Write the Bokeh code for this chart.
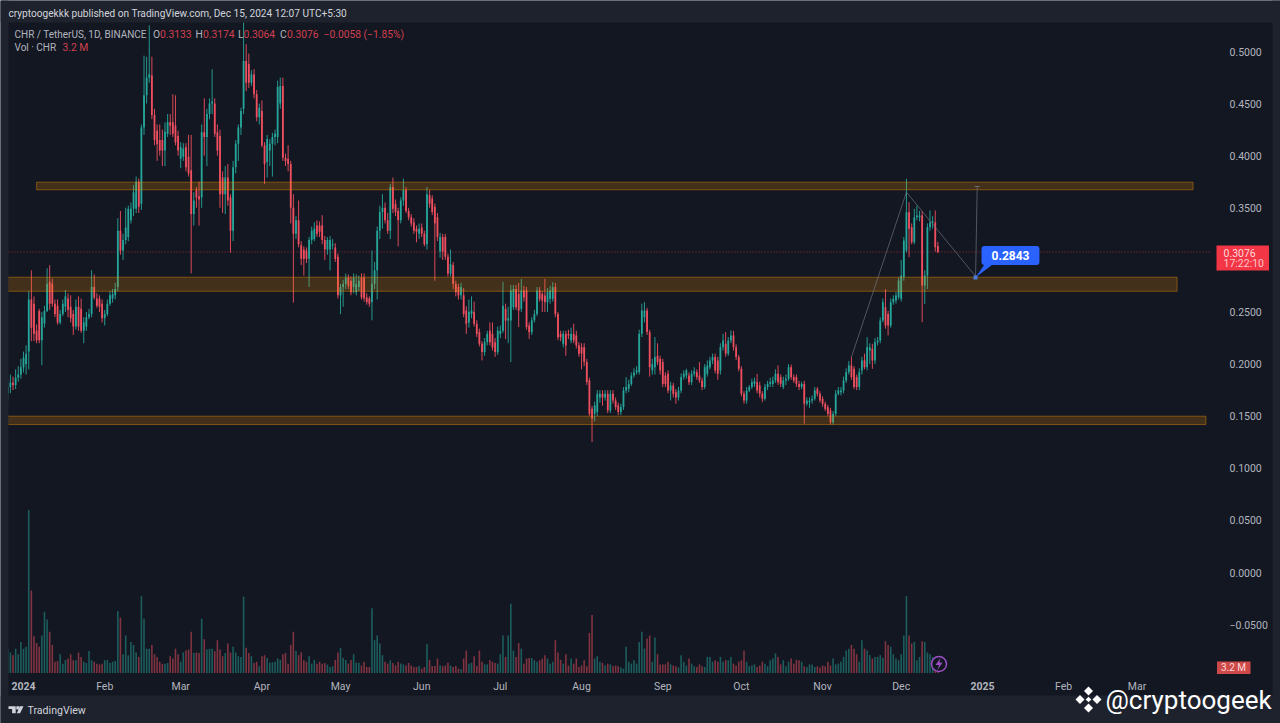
from bokeh.plotting import figure
from bokeh.embed import file_html
from bokeh.resources import INLINE
from bokeh.models import (ColumnDataSource, Range1d, FixedTicker, Label, BoxAnnotation, PolyAnnotation)

first_day = -6  # 6 candles of Dec 2023 come before 1 Jan 2024 (day 0)

price_open = [
.172,.178,.182,.180,.187,.190,.197,.200,.212,.262,
.258,.232,.251,.223,.239,.251,.279,.277,.258,.256,
.240,.248,.255,.263,.255,.248,.236,.255,.253,.232,
.236,.245,.248,.274,.263,.263,.258,.244,.248,.258,
.263,.266,.274,.328,.309,.319,.322,.338,.349,.349,
.375,.354,.427,.458,.475,.477,.439,.424,.415,.415,
.405,.421,.432,.432,.429,.419,.397,.399,.408,.399,
.386,.344,.367,.361,.360,.4225,.418,.440,.450,.450,
.4225,.419,.379,.363,.379,.360,.328,.389,.4115,.427,
.445,.491,.488,.470,.478,.459,.437,.443,.410,.394,
.405,.4115,.418,.418,.450,.467,.398,.397,.392,.350,
.325,.338,.314,.310,.309,.301,.319,.320,.333,.333,
.333,.319,.310,.310,.314,.312,.303,.266,.274,.277,
.283,.280,.274,.269,.274,.283,.283,.264,.263,.2595,
.277,.290,.328,.346,.350,.338,.328,.370,.354,.347,
.338,.357,.367,.347,.341,.336,.330,.325,.331,.325,
.315,.362,.359,.351,.341,.308,.322,.322,.303,.287,
.295,.277,.274,.266,.266,.2514,.240,.248,.250,.2387,
.2307,.2195,.2115,.221,.232,.229,.221,.2115,.229,.232,
.253,.2418,.2418,.2546,.272,.2674,.253,.2706,.2706,.237,
.2306,.242,.248,.2706,.2674,.2658,.2594,.2626,.2626,.2738,
.248,.229,.2195,.229,.229,.2226,.229,.2275,.218,.2162,
.2162,.2019,.1843,.1571,.1523,.154,.168,.1715,.168,.1715,
.1555,.1715,.165,.1603,.154,.1587,.1747,.1763,.181,.189,
.192,.1923,.2291,.245,.2514,.2307,.194,.197,.208,.205,
.2019,.189,.1907,.1747,.1795,.173,.168,.1747,.1875,.189,
.189,.1827,.1907,.1923,.189,.1843,.178,.1907,.197,.2035,
.2067,.2035,.1939,.2162,.2195,.210,.2226,.2275,.2162,.2067,
.1955,.1715,.165,.1747,.178,.181,.1827,.1795,.1715,.1667,
.178,.181,.181,.1843,.1907,.1875,.178,.1843,.1859,.197,
.1875,.1875,.181,.178,.181,.1619,.1635,.165,.1667,.1763,
.1715,.1667,.1619,.1587,.1555,.1443,.1523,.1715,.173,.1747,
.1843,.1923,.1987,.1955,.1875,.178,.1939,.2035,.1971,.213,
.2147,.2035,.221,.2226,.2418,.2546,.2482,.237,.2594,.261,
.2642,.2626,.2834,.309,.3458,.3314,.317,.341,.341,.3426,
.2754,.285,.3314,.336,.336,.3133]

price_close = [
.178,.182,.180,.187,.190,.197,.206,.210,.262,.235,
.229,.223,.223,.245,.251,.277,.258,.258,.248,.240,
.248,.258,.265,.252,.244,.236,.255,.236,.232,.240,
.245,.248,.274,.264,.256,.255,.244,.248,.258,.266,
.267,.272,.328,.309,.319,.331,.349,.349,.365,.375,
.351,.427,.458,.475,.478,.439,.415,.411,.405,.405,
.423,.432,.429,.421,.413,.405,.408,.407,.389,.383,
.344,.357,.360,.358,.4225,.418,.440,.450,.452,.421,
.405,.363,.363,.379,.357,.328,.389,.4115,.427,.443,
.491,.470,.470,.478,.459,.437,.446,.410,.392,.416,
.4115,.418,.421,.466,.467,.398,.395,.392,.350,.325,
.338,.315,.301,.301,.301,.319,.328,.330,.325,.327,
.319,.310,.319,.319,.315,.301,.266,.274,.277,.283,
.275,.269,.283,.277,.280,.264,.263,.2595,.258,.277,
.290,.328,.346,.350,.338,.328,.370,.349,.346,.338,
.357,.367,.347,.341,.335,.328,.327,.330,.325,.315,
.363,.354,.346,.335,.322,.322,.308,.303,.287,.296,
.277,.269,.266,.274,.248,.2387,.250,.2514,.2387,.229,
.2195,.2115,.221,.229,.221,.216,.2115,.232,.232,.256,
.2418,.244,.2706,.272,.2546,.2514,.2706,.264,.2355,.2306,
.242,.248,.2706,.2626,.261,.2594,.269,.2706,.2738,.248,
.2258,.2258,.229,.218,.2275,.229,.2226,.218,.210,.210,
.2019,.1827,.1523,.1475,.1603,.1715,.1715,.168,.1715,.1555,
.1715,.165,.1587,.154,.1587,.1747,.178,.181,.189,.192,
.194,.2291,.2514,.2514,.2307,.197,.200,.2067,.2019,.1939,
.181,.181,.1747,.1795,.1715,.168,.1747,.1875,.1907,.1939,
.1827,.1907,.193,.1875,.1843,.178,.197,.1987,.2035,.2067,
.1939,.1907,.2162,.2226,.210,.2226,.2275,.2162,.2067,.1955,
.1715,.165,.1747,.178,.1827,.1837,.1747,.1715,.1667,.178,
.181,.1827,.1843,.1907,.1827,.181,.1843,.1859,.197,.1875,
.1843,.181,.178,.181,.1619,.165,.165,.1667,.1747,.1715,
.165,.1619,.1571,.1523,.1443,.1523,.1715,.1747,.1747,.1843,
.1923,.1987,.1875,.178,.178,.1923,.2035,.1971,.2162,.2162,
.2035,.221,.2226,.2418,.2594,.237,.237,.2594,.2626,.2658,
.2802,.285,.3186,.3458,.3298,.317,.341,.3426,.3426,.2754,
.285,.3314,.336,.337,.3122,.3076]

price_high = [
.185,.190,.188,.195,.198,.205,.212,.218,.270,.290,
.265,.238,.253,.250,.256,.292,.295,.282,.262,.262,
.252,.262,.271,.268,.266,.252,.262,.265,.263,.245,
.250,.253,.290,.286,.268,.266,.262,.252,.262,.270,
.272,.278,.340,.347,.325,.350,.352,.355,.372,.380,
.378,.430,.496,.495,.525,.495,.445,.430,.430,.425,
.432,.440,.440,.459,.458,.424,.413,.412,.412,.420,
.420,.365,.370,.375,.430,.455,.445,.455,.483,.455,
.430,.425,.385,.390,.392,.363,.395,.415,.430,.446,
.528,.507,.498,.482,.483,.463,.450,.453,.413,.420,
.416,.422,.425,.472,.475,.475,.402,.410,.395,.363,
.342,.357,.318,.313,.312,.322,.332,.336,.338,.337,
.343,.323,.322,.323,.320,.316,.306,.277,.281,.287,
.286,.284,.287,.286,.285,.287,.287,.268,.265,.309,
.298,.332,.352,.363,.355,.345,.373,.379,.358,.350,
.360,.378,.370,.350,.344,.340,.333,.335,.335,.328,
.370,.367,.362,.354,.345,.326,.325,.325,.306,.310,
.298,.280,.277,.278,.273,.2555,.262,.265,.260,.242,
.234,.222,.225,.232,.240,.240,.225,.236,.237,.279,
.258,.255,.276,.276,.276,.278,.2818,.275,.274,.240,
.245,.252,.274,.274,.270,.2818,.273,.275,.2786,.278,
.250,.232,.232,.232,.233,.235,.2387,.232,.221,.220,
.220,.205,.187,.160,.164,.175,.175,.175,.175,.175,
.175,.175,.168,.163,.162,.178,.1875,.185,.192,.196,
.198,.233,.258,.2595,.254,.233,.205,.2259,.220,.208,
.205,.192,.194,.183,.182,.176,.178,.191,.194,.1955,
.192,.194,.197,.195,.2019,.187,.200,.2035,.207,.210,
.210,.207,.220,.2291,.2307,.226,.2323,.232,.219,.209,
.198,.174,.178,.180,.186,.187,.1907,.183,.174,.181,
.184,.187,.188,.195,.1987,.190,.188,.190,.200,.1995,
.190,.190,.184,.183,.184,.168,.168,.170,.178,.178,
.174,.169,.164,.161,.158,.155,.175,.178,.178,.188,
.196,.203,.207,.198,.190,.196,.207,.210,.2259,.220,
.2195,.225,.226,.245,.263,.272,.251,.263,.266,.269,
.283,.300,.322,.3778,.3554,.335,.349,.3522,.347,.347,
.290,.335,.3474,.342,.3474,.3174]

price_low = [
.165,.172,.175,.176,.183,.186,.192,.190,.195,.222,
.222,.220,.220,.199,.235,.250,.252,.255,.245,.238,
.238,.246,.250,.245,.240,.228,.233,.232,.230,.220,
.232,.243,.245,.262,.254,.250,.240,.237,.246,.256,
.259,.262,.270,.305,.300,.315,.318,.335,.342,.345,
.345,.348,.420,.450,.470,.435,.410,.395,.400,.390,
.390,.418,.420,.418,.410,.400,.388,.395,.385,.380,
.287,.333,.350,.333,.350,.400,.390,.435,.440,.418,
.400,.350,.345,.344,.352,.307,.318,.383,.395,.420,
.440,.462,.465,.467,.455,.433,.430,.408,.373,.379,
.390,.380,.410,.412,.445,.395,.390,.385,.335,.259,
.320,.312,.295,.285,.297,.274,.315,.318,.322,.322,
.315,.300,.305,.290,.310,.298,.263,.248,.255,.272,
.272,.266,.268,.266,.270,.262,.260,.257,.255,.242,
.272,.262,.320,.330,.335,.325,.320,.345,.342,.313,
.335,.352,.345,.338,.332,.325,.317,.320,.322,.313,
.310,.350,.343,.280,.318,.302,.300,.300,.284,.284,
.272,.265,.262,.262,.245,.229,.235,.244,.236,.226,
.217,.2035,.208,.218,.218,.213,.207,.209,.225,.230,
.224,.220,.202,.252,.252,.2355,.250,.260,.233,.2242,
.228,.240,.246,.260,.250,.250,.250,.258,.260,.245,
.223,.222,.216,.208,.224,.220,.220,.215,.207,.195,
.198,.180,.150,.1251,.145,.150,.163,.160,.165,.153,
.153,.162,.156,.151,.151,.156,.172,.173,.179,.187,
.190,.190,.226,.240,.228,.188,.190,.190,.199,.190,
.178,.178,.172,.1651,.168,.1619,.165,.172,.185,.186,
.180,.180,.188,.185,.182,.175,.176,.188,.195,.200,
.191,.185,.190,.213,.207,.208,.220,.213,.204,.193,
.169,.162,.162,.173,.176,.178,.172,.168,.1635,.165,
.175,.178,.178,.182,.180,.178,.176,.180,.184,.185,
.182,.178,.175,.176,.1427,.160,.158,.162,.165,.169,
.163,.159,.155,.150,.142,.142,.150,.170,.170,.172,
.182,.190,.185,.176,.175,.175,.190,.195,.194,.200,
.1955,.200,.218,.220,.240,.234,.2275,.235,.257,.258,
.262,.260,.280,.307,.3026,.315,.315,.338,.337,.2402,
.2578,.272,.328,.330,.308,.3064]

volume_m = [
13,11,9.5,13,10,16.6,13,14,87,44,
19.6,16,14,20,32.7,28.6,22,15,6,6.4,
10,5,7,7.7,10,6.8,6.8,11,8.6,6,
5.4,11.8,6.8,6,5,4.6,5,6.8,7,5.4,
6,6.4,33,29.6,10,20,9.5,16.6,15,11,
8.6,41,29,13,13,15,10,8.6,6,5,
5,5.4,9,7.7,13,10,6,11,12,12.5,
22,10.7,11,10.7,29,18,12.5,13,13,11.6,
17.5,12.5,9,10.7,15.7,11,14,11,9,8.6,
40.7,13.5,10.7,9,5.4,6,3.6,9,9.5,8,
5.5,5.7,6,7.8,7,10,10.7,5,15,22,
11.8,9.5,11,6.8,6,9,5,7,5,6,
5,5.4,4.5,3.2,3.6,7,11,13.4,8,7,
5,7,10,5.5,5.5,4,6,3.2,3.2,34.5,
17.5,20,15.7,9.5,6,5,6.8,5.4,4,6,
5,4.6,4,5.4,4,3.2,3.2,3.7,2.3,3.2,
15.4,7,3.7,3.7,7.7,4,3.6,4,5.5,4,
3.2,3.7,2.3,2,7.7,12,5,5.5,9,3.7,
12,6,4.6,4.6,6.8,6,5.4,5,10,20,
8.6,20,37,12,8.6,16,13,5,7.7,8,
8,6.8,6,6.8,7.7,9.5,7.7,5,6,17.5,
11,7,5,10,4,7.7,5,7.7,3.2,4,
6.8,3.6,21.4,31,7.7,9,6,5.4,4,5,
4.6,3.6,4,3.6,3,2.3,14,6,5,6.8,
5,16.6,22,13,18.4,20,6,19,10,4.6,
4.6,4.6,6,4.6,4,3.6,3,9.5,6,4,
7.7,5,3.6,3.2,4.6,3.6,3.2,8.6,8.6,6,
6.8,6,8.6,6,6.8,6.8,8.6,5,4,6,
6.8,12,6,3.6,4,4.6,3.2,4,6,5,
3.6,6.8,7.7,10.4,8.6,4.6,6.8,3.6,6,7.7,
5,7,6.8,6,3.6,3.2,4.6,4.6,3.2,3.6,
3,4,3.6,6,4,7.7,4.6,5,6,8.6,
12,13,15,13,10,6,17.5,13,12,9.5,
7.7,8.6,8.6,9.5,8,17,15,14,10,7.7,
6.8,10,20,41,20,15.7,16.6,6.8,8.6,17,
16.6,11,10,8.6,6.8,3.2]

month_days = [0, 31, 60, 91, 121, 152, 182, 213, 244, 274, 305, 335, 366, 397, 425]
month_labels = ["", "Feb", "Mar", "Apr", "May", "Jun", "Jul", "Aug", "Sep", "Oct", "Nov", "Dec", "", "Feb", "Mar"]
price_ticks = [0.5, 0.45, 0.4, 0.35, 0.25, 0.2, 0.15, 0.1, 0.05, 0.0, -0.05]
price_tick_labels = ["0.5000", "0.4500", "0.4000", "0.3500", "0.2500", "0.2000", "0.1500", "0.1000", "0.0500", "0.0000", "\u22120.0500"]

band_left = [5, -6, -6]
band_right = [446.4, 440.3, 451.3]
band_top = [0.3746, 0.2834, 0.1500]
band_bottom = [0.3673, 0.2699, 0.1420]

path_days = [316, 337, 363.4, 364]
path_prices = [0.2066, 0.365, 0.2843, 0.3705]
last_price = 0.3076

GREEN, RED = "#26a69a", "#ef4f5f"
BG, BAR = "#131722", "#1e222d"
days = [first_day + i for i in range(len(price_open))]
up = [c >= o for o, c in zip(price_open, price_close)]
src = ColumnDataSource(dict(
    day=days, o=price_open, c=price_close, h=price_high, l=price_low, v=volume_m,
    top=[max(a, b) for a, b in zip(price_open, price_close)],
    bot=[min(a, b) for a, b in zip(price_open, price_close)],
    col=[GREEN if u else RED for u in up],
))

# page pixel -> data helpers for overlays that sit around the chart
X = lambda px: (px - 23) / 2.62
Y = lambda py: (572 - py) / 1042
V = lambda py: (672.5 - py) / 1.875

# the plot frame fills the whole canvas; the axes are pinned inside it
p = figure(width=1280, height=723, output_backend="svg", toolbar_location=None,
           x_range=Range1d(X(0), X(1280)), y_range=Range1d(Y(723), Y(0)),
           y_axis_location="right", min_border_left=0, min_border_right=0,
           min_border_top=0, min_border_bottom=0,
           background_fill_color=BG, border_fill_color=BG, outline_line_color=None)
p.extra_y_ranges = {"vol": Range1d(V(723), V(0))}
p.grid.visible = False

yaxis = p.yaxis[0]
yaxis.fixed_location = X(1210)
yaxis.ticker = FixedTicker(ticks=price_ticks)
yaxis.major_label_overrides = dict(zip(price_ticks, price_tick_labels))
xaxis = p.xaxis[0]
xaxis.fixed_location = Y(673)
xaxis.ticker = FixedTicker(ticks=month_days)
xaxis.major_label_overrides = dict(zip(month_days, month_labels))
for ax in (xaxis, yaxis):
    ax.axis_line_color = None
    ax.major_tick_line_color = None
    ax.minor_tick_line_color = None
    ax.major_label_text_color = "#b2b5be"
    ax.major_label_text_font = "Roboto"
    ax.major_label_text_font_size = "10.5px"
yaxis.major_label_standoff = 13
xaxis.major_label_standoff = 0

p.vbar(x="day", width=0.6, top="v", bottom=0, source=src, y_range_name="vol",
       fill_color="col", line_color=None, fill_alpha=0.5)
p.segment(x0=[X(8)], x1=[X(1210)], y0=[last_price], y1=[last_price], line_color="#f23645", line_alpha=0.6,
          line_dash="1 2", line_width=1)
p.segment(x0="day", x1="day", y0="l", y1="h", source=src, line_color="col", line_width=1, line_alpha=0.9)
p.vbar(x="day", width=0.68, top="top", bottom="bot", source=src, fill_color="col", line_color=None)
p.quad(left=band_left, right=band_right, top=band_top, bottom=band_bottom,
       fill_color="#ff9800", fill_alpha=0.2, line_color="#ff9800", line_alpha=0.4, line_width=1)
p.line(path_days, path_prices, line_color="#787b86", line_width=0.8, line_alpha=0.8)
p.line([path_days[3] - 1, path_days[3] + 1], [path_prices[3], path_prices[3]], line_color="#787b86", line_width=0.8)

def box(l, r, t, b, color, alpha=1.0):
    p.add_layout(BoxAnnotation(left=X(l), right=X(r), top=Y(t), bottom=Y(b), fill_color=color,
                               fill_alpha=alpha, line_color=None))

def poly(pts, color="#ffffff", alpha=1.0):
    p.add_layout(PolyAnnotation(xs=[X(a) for a, _ in pts], ys=[Y(b) for _, b in pts], fill_color=color,
                                fill_alpha=alpha, line_color=None))

def txt(x, y, s, color="#d1d4dc", size="10.5px", style="normal", align="left", font="Roboto"):
    p.add_layout(Label(x=X(x), y=Y(y), text=s, text_color=color, text_font_size=size, text_font_style=style,
                       text_align=align, text_baseline="middle", text_font=font))

# frame bars
box(0, 1280, 0, 22, BAR)
box(0, 1280, 695, 723, BAR)
box(0, 8, 0, 723, BAR)
box(1272, 1280, 0, 723, BAR)

# header
txt(8, 12.5, "cryptoogekkk published on TradingView.com, Dec 15, 2024 12:07 UTC+5:30", "#d1d4dc", "10.15px")
txt(14, 33.5, "CHR / TetherUS, 1D, BINANCE", "#b2b5be", "10px")
LEG_RED = "#d2404f"
for x, s, c in [(152.5, "O", "#b2b5be"), (159.5, "0.3133", LEG_RED), (195, "H", "#b2b5be"), (202.5, "0.3174", LEG_RED),
                (237.5, "L", "#b2b5be"), (243, "0.3064", LEG_RED), (279.5, "C", "#b2b5be"), (286.5, "0.3076", LEG_RED),
                (323, "\u22120.0058 (\u22121.85%)", LEG_RED)]:
    txt(x, 33.5, s, c, "10.3px")
txt(14, 47, "Vol \u00b7 CHR", "#b2b5be", "10px")
txt(62, 47, "3.2 M", LEG_RED, "10.3px")

# bold year labels on the time scale
txt(23, 685, "2024", "#b2b5be", "10.5px", "bold", "center")
txt(982, 685, "2025", "#b2b5be", "10.5px", "bold", "center")

# current price tag
box(1216, 1268.5, 245, 270, "#f23645")
txt(1223, 252, "0.3076", "#ffd9dc", "10.5px")
txt(1223, 263, "17:22:10", "#ffc4c9", "10.5px")
# volume tag
box(1216.5, 1250, 661, 673.5, "#ef5350", 0.85)
txt(1233, 667, "3.2 M", "#ffd9dc", "10px", "normal", "center")

# callout
poly([(975, 277), (984, 264), (992, 264)], "#2962ff")
p.add_layout(Label(x=X(1010), y=Y(255), text="0.2843", text_color="#ffffff", text_font_size="12px",
                   text_font_style="bold", text_font="Roboto", text_align="center", text_baseline="middle",
                   background_fill_color="#2962ff", border_radius=3, padding=(10, 5)))
poly([(973, 275), (977, 275), (977, 279), (973, 279)], "#4a7bd8")

# flash badge at the last bar
p.scatter([X(938.5)], [Y(663.5)], marker="circle", size=15, fill_color=BG, line_color="#9c4fc4", line_width=1.5)
poly([(940, 657.5), (935, 664.5), (938.5, 664.5), (937, 669.5), (942, 662), (938.8, 662)], "#9c4fc4")

# TradingView mark
poly([(8, 705.8), (15.2, 705.8), (15.2, 712.8), (11.6, 712.8), (11.6, 708.6), (8, 708.6)], "#d1d4dc")
poly([(15.8, 705.8), (19, 705.8), (19, 709), (15.8, 709)], "#d1d4dc")
poly([(19.6, 705.8), (23, 705.8), (19.6, 712.8), (16.2, 712.8)], "#d1d4dc")
txt(27, 709.5, "TradingView", "#d1d4dc", "10.6px")

# watermark
cx, cy = 1088, 699
for dx, dy, r in [(0, -8.5, 4.5), (0, 8.5, 4.5), (-8.5, 0, 4.5), (8.5, 0, 4.5), (0, 0, 2.8)]:
    poly([(cx + dx, cy + dy - r), (cx + dx + r, cy + dy), (cx + dx, cy + dy + r), (cx + dx - r, cy + dy)], "#ffffff")
txt(1105, 699.5, "@cryptoogeek", "#ffffff", "26px", "normal", "left", "Roboto")

open("out.html", "w").write(file_html(p, INLINE))
